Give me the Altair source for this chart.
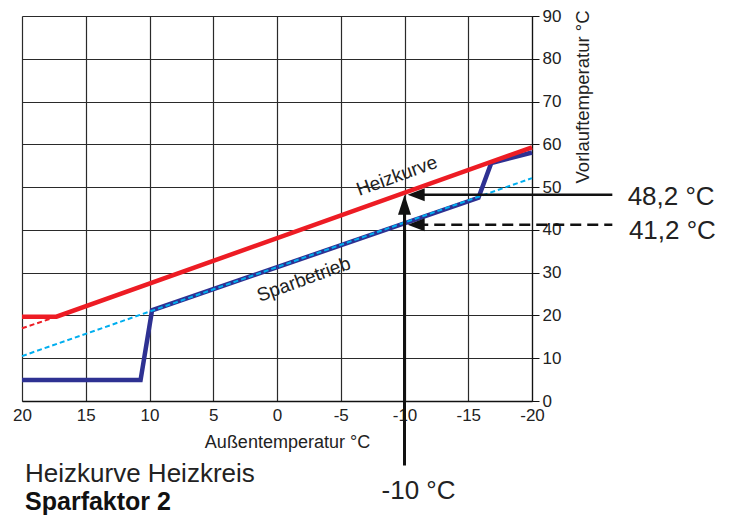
import altair as alt
import pandas as pd

# ---- data ----
x_ticks = [20, 15, 10, 5, 0, -5, -10, -15, -20]
y_ticks = [0, 10, 20, 30, 40, 50, 60, 70, 80, 90]

heiz_x = [20, 17.3, -20]
heiz_y = [19.7, 19.7, 59.3]
heiz_ext_x = [20, 17.3]
heiz_ext_y = [17.0, 19.7]
ref_x = [20, -20]
ref_y = [10.5, 52.1]
spar_x = [20, 10.7, 9.8, -15.8, -16.8, -20]
spar_y = [4.9, 4.9, 21.2, 47.5, 55.6, 58.1]

outdoor_ref = -10
flow_heiz = 48.2
flow_spar = 41.2

arrow_v_x = [-10, -10]
arrow_v_y = [-15.1, 46.5]
arrow_h_x = [-11.0, -26.3]

curve_labels = ["Heizkurve", "Sparbetrieb"]
curve_label_x = [-9.4, -2.1]
curve_label_y = [52.6, 28.4]

value_labels = ["48,2 °C", "41,2 °C"]
value_label_x = [-27.5, -27.6]
value_label_y = [47.6, 39.7]

caption_main = "Heizkurve Heizkreis"
caption_bold = "Sparfaktor 2"
outdoor_label = "-10 °C"


def df(xs, ys):
    return pd.DataFrame({"x": xs, "y": ys, "i": list(range(len(xs)))})


FONT = "Liberation Sans"
GRID = "#2a2a2a"

xscale = alt.Scale(domain=[20, -20], nice=False, zero=False)
yscale = alt.Scale(domain=[0, 90], nice=False, zero=False)
xaxis = alt.Axis(values=x_ticks, grid=True, gridColor=GRID, gridWidth=1.2,
                 gridOpacity=1, ticks=False, labelPadding=6,
                 labelExpr="'' + datum.value",
                 labelFontSize=17, labelColor="#222", domainColor="#111",
                 domainWidth=1.5, title="Außentemperatur °C", titleFontSize=18,
                 titleFontWeight="normal", titleColor="#222", titleX=265,
                 titleY=41, titleBaseline="middle", titleAlign="center",
                 labelFlush=False)
yaxis = alt.Axis(orient="right", values=y_ticks, grid=True, gridColor=GRID,
                 gridWidth=1.2, gridOpacity=1, tickSize=7,
                 tickColor="#111", labelPadding=3, labelFontSize=17,
                 labelColor="#222", domainColor="#111", domainWidth=1.2,
                 title="Vorlauftemperatur °C", titleFontSize=18.5,
                 titleFontWeight="normal", titleColor="#222", titleAngle=270,
                 titleAlign="right", titleBaseline="middle", titleX=50,
                 titleY=-6)


def enc(chart):
    return chart.encode(
        x=alt.X("x:Q", scale=xscale, axis=xaxis),
        y=alt.Y("y:Q", scale=yscale, axis=yaxis),
    )


def line(d, color, width, dash=None):
    kw = dict(color=color, strokeWidth=width, strokeCap="butt", strokeJoin="miter")
    if dash:
        kw["strokeDash"] = dash
    return enc(alt.Chart(d).mark_line(**kw)).encode(order=alt.Order("i:Q"))


RED = "#ed1c24"
NAVY = "#2e3192"
CYAN = "#00aeef"

layers = [
    line(df(heiz_ext_x, heiz_ext_y), RED, 2, [5, 3]),
    line(df(spar_x, spar_y), NAVY, 4.5),
    line(df(ref_x, ref_y), CYAN, 2, [5, 3]),
    line(df(heiz_x, heiz_y), RED, 4.5),
    # annotation arrows
    line(df(arrow_v_x, arrow_v_y), "#111", 3),
    line(df(arrow_h_x, [flow_heiz, flow_heiz]), "#111", 2.5),
    line(df(arrow_h_x, [flow_spar, flow_spar]), "#111", 2.5, [11, 6]),
    enc(alt.Chart(df([outdoor_ref], [flow_heiz])).mark_point(
        shape="M0,0L-0.65,2L0.65,2Z", size=400, filled=True, opacity=1,
        color="#111", strokeWidth=0)),
    enc(alt.Chart(df([-10.25, -10.25], [flow_heiz, flow_spar])).mark_point(
        shape="M0,0L1.7,-0.65L1.7,0.65Z", size=400, filled=True, opacity=1,
        color="#111", strokeWidth=0)),
]

labels_df = pd.DataFrame({"x": curve_label_x, "y": curve_label_y, "t": curve_labels})
layers.append(enc(alt.Chart(labels_df).mark_text(
    angle=340, align="center", baseline="middle", fontSize=19, color="#222",
    font=FONT)).encode(text="t:N"))

vals_df = pd.DataFrame({"x": value_label_x, "y": value_label_y, "t": value_labels})
layers.append(enc(alt.Chart(vals_df).mark_text(
    align="left", baseline="middle", fontSize=26, color="#222",
    font=FONT)).encode(text="t:N"))

out_df = pd.DataFrame({"x": [-11.1], "y": [-22.8], "t": [outdoor_label]})
layers.append(enc(alt.Chart(out_df).mark_text(
    align="center", baseline="alphabetic", fontSize=26, color="#222",
    font=FONT)).encode(text="t:N"))

cap_df = pd.DataFrame({"x": [19.76], "y": [-19.0], "t": [caption_main]})
layers.append(enc(alt.Chart(cap_df).mark_text(
    align="left", baseline="alphabetic", fontSize=26, color="#222",
    font=FONT)).encode(text="t:N"))

capb_df = pd.DataFrame({"x": [19.76], "y": [-25.4], "t": [caption_bold]})
layers.append(enc(alt.Chart(capb_df).mark_text(
    align="left", baseline="alphabetic", fontSize=25, fontWeight="bold",
    color="#111", font=FONT)).encode(text="t:N"))

chart = alt.layer(*layers).properties(
    width=510, height=385,
    autosize=alt.AutoSizeParams(type="none"),
    padding={"left": 14, "top": 8, "right": 194, "bottom": 116},
).configure_view(strokeWidth=0).configure_axis(
    labelFont=FONT, titleFont=FONT,
).configure(background="white")

chart.save("out.html", embed_options={"renderer": "svg", "actions": False})
